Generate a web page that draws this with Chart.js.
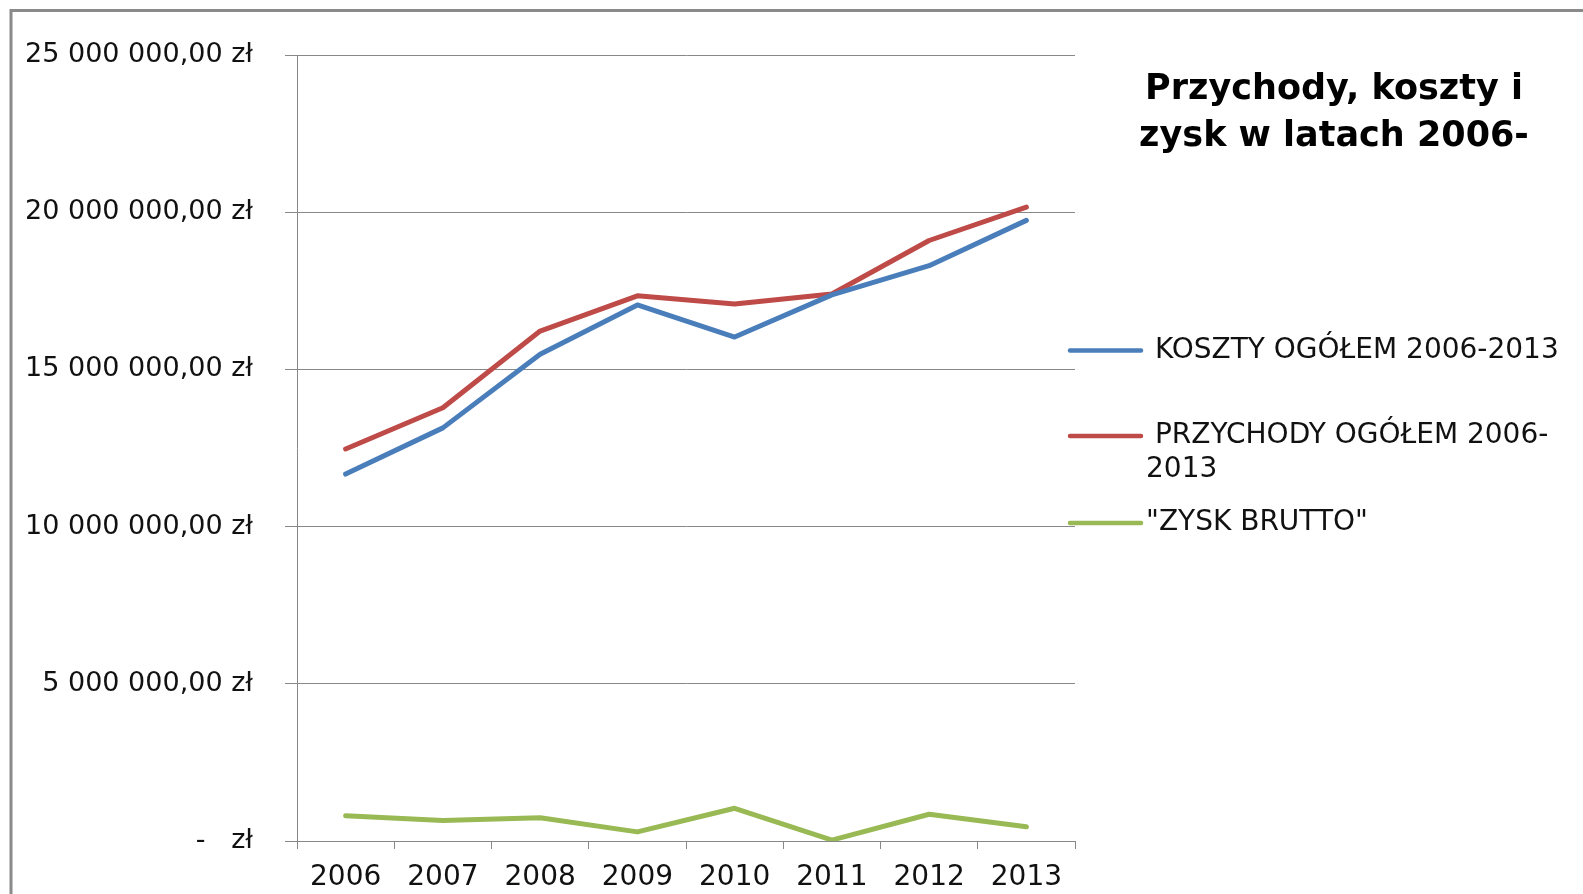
<!DOCTYPE html>
<html lang="pl">
<head>
<meta charset="utf-8">
<title>Przychody, koszty i zysk w latach 2006-2013</title>
<script src="https://cdn.jsdelivr.net/npm/chart.js@4/dist/chart.umd.min.js"></script>
<style>
  html, body { margin: 0; padding: 0; background: #fff; }
  #chart { display: block; }
</style>
</head>
<body>
<canvas id="chart" width="1583" height="894"></canvas>
<script>
var years = ["2006", "2007", "2008", "2009", "2010", "2011", "2012", "2013"];
var koszty = [11670000, 13140000, 15480000, 17050000, 16030000, 17370000, 18300000, 19740000];
var przychody = [12470000, 13780000, 16220000, 17340000, 17080000, 17400000, 19100000, 20160000];
var zysk = [800000, 650000, 740000, 290000, 1040000, 30000, 850000, 450000];
var seriesNames = [" KOSZTY OGÓŁEM 2006-2013", " PRZYCHODY OGÓŁEM 2006-2013", "\"ZYSK BRUTTO\""];
var titleLines = ["Przychody, koszty i", "zysk w latach 2006-"];
var yTicks = { min: 0, max: 25000000, step: 5000000 };

(function () {
  "use strict";

  var FONT = "'DejaVu Sans', sans-serif";
  var GRID = "#888888";
  var colors = ["#4a7ebb", "#be4b48", "#98b954"];

  // Excel accounting format: "25 000 000,00 zł", zero shown as "-   zł".
  function zloty(v) {
    if (v === 0) return "-\u00a0\u00a0\u00a0zł";
    return String(v).replace(/\B(?=(\d{3})+(?!\d))/g, "\u00a0") + ",00 zł";
  }

  // Break a legend label after a space or hyphen when it gets too wide.
  function wrap(ctx, text, maxWidth) {
    var parts = text.match(/[^ -]*[ -]?/g).filter(function (p) { return p; });
    var lines = [];
    var cur = "";
    parts.forEach(function (p) {
      if (cur && ctx.measureText(cur + p).width > maxWidth) {
        lines.push(cur);
        cur = p;
      } else {
        cur += p;
      }
    });
    if (cur) lines.push(cur);
    return lines;
  }

  // Frame, title and the right-hand legend, drawn the way Excel laid them out.
  var decorPlugin = {
    id: "decor",
    afterDraw: function (chart, args, opts) {
      var ctx = chart.ctx;
      ctx.save();
      ctx.strokeStyle = "#8a8a8a";
      ctx.lineWidth = 3;
      ctx.strokeRect(11, 10.5, chart.width + 20, chart.height + 20);

      ctx.fillStyle = "#000";
      ctx.textAlign = "center";
      ctx.textBaseline = "middle";
      ctx.font = "bold 35px " + FONT;
      opts.title.forEach(function (line, i) {
        ctx.fillText(line, opts.titleX, opts.titleY + i * opts.titleGap);
      });

      ctx.textAlign = "left";
      ctx.font = "28px " + FONT;
      ctx.lineCap = "round";
      ctx.lineWidth = 4.5;
      chart.data.datasets.forEach(function (ds, i) {
        var y = opts.rows[i];
        ctx.strokeStyle = ds.borderColor;
        ctx.beginPath();
        ctx.moveTo(opts.lineX0, y);
        ctx.lineTo(opts.lineX1, y);
        ctx.stroke();
        ctx.fillStyle = "#111";
        wrap(ctx, ds.label, opts.textMax).forEach(function (line, j) {
          ctx.fillText(line, opts.textX, y + j * opts.lineGap);
        });
      });
      ctx.restore();
    },
  };

  function series(label, values, i) {
    return {
      label: label,
      data: values,
      borderColor: colors[i],
      backgroundColor: colors[i],
      borderWidth: 5,
      borderCapStyle: "round",
      borderJoinStyle: "round",
      pointRadius: 0,
      tension: 0,
      fill: false,
    };
  }

  new Chart(document.getElementById("chart"), {
    type: "line",
    data: {
      labels: years,
      datasets: [
        series(seriesNames[0], koszty, 0),
        series(seriesNames[1], przychody, 1),
        series(seriesNames[2], zysk, 2),
      ],
    },
    plugins: [decorPlugin],
    options: {
      responsive: false,
      animation: false,
      events: [],
      layout: { padding: { left: 0, top: 55, right: 508, bottom: 0 } },
      plugins: {
        legend: { display: false },
        title: { display: false },
        tooltip: { enabled: false },
        decor: {
          title: titleLines,
          titleX: 1334,
          titleY: 90,
          titleGap: 47,
          rows: [350.5, 436, 523],
          lineGap: 34,
          lineX0: 1070,
          lineX1: 1141,
          textX: 1146,
          textMax: 430,
        },
      },
      scales: {
        x: {
          type: "category",
          offset: true,
          afterFit: function (s) { s.height = 53; },
          grid: {
            offset: true,
            drawOnChartArea: false,
            drawTicks: true,
            tickLength: 8,
            color: GRID,
          },
          border: { display: true, color: GRID, width: 1 },
          ticks: {
            color: "#111",
            font: { family: FONT, size: 28 },
            padding: 12,
            maxRotation: 0,
            autoSkip: false,
          },
        },
        y: {
          min: yTicks.min,
          max: yTicks.max,
          afterFit: function (s) { s.width = 297; },
          grid: { color: GRID, tickLength: 12, lineWidth: 1 },
          border: { display: true, color: GRID, width: 1 },
          ticks: {
            stepSize: yTicks.step,
            color: "#111",
            font: { family: FONT, size: 27 },
            padding: 32,
            callback: function (v) { return zloty(v); },
          },
        },
      },
    },
  });
})();
</script>
</body>
</html>
